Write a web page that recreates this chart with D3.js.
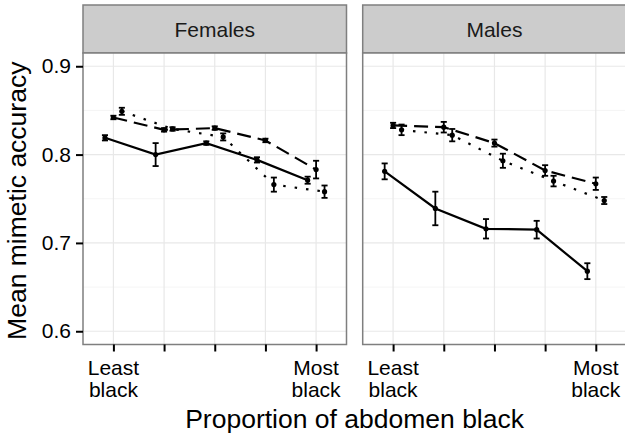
<!DOCTYPE html>
<html>
<head>
<meta charset="utf-8">
<script src="https://cdn.jsdelivr.net/npm/d3@7"></script>
<style>
  body { margin: 0; background: #fff; }
  text { font-family: "Liberation Sans", Arial, Helvetica, sans-serif; }
</style>
</head>
<body>
<div id="chart"></div>
<script>
// categories along x (proportion of abdomen black, 5 levels)
var categories = [1, 2, 3, 4, 5];
var tickLabels = [["Least", "black"], [], [], [], ["Most", "black"]];
var panels = ["Females", "Males"];
var yTicks = [0.6, 0.7, 0.8, 0.9];
var yMinor = [0.65, 0.75, 0.85];

// mean and error (half-width) per panel, one per line style
var femalesSolid  = [0.819, 0.800, 0.813, 0.794, 0.771];
var femalesSolidErr  = [0.003, 0.013, 0.002, 0.003, 0.004];
var femalesDashed = [0.842, 0.828, 0.830, 0.816, 0.783];
var femalesDashedErr = [0.002, 0.002, 0.002, 0.002, 0.010];
var femalesDotted = [0.849, 0.829, 0.820, 0.766, 0.758];
var femalesDottedErr = [0.004, 0.002, 0.004, 0.008, 0.007];

var malesSolid  = [0.781, 0.739, 0.716, 0.715, 0.668];
var malesSolidErr  = [0.009, 0.019, 0.011, 0.010, 0.009];
var malesDashed = [0.833, 0.831, 0.813, 0.782, 0.767];
var malesDashedErr = [0.003, 0.006, 0.004, 0.006, 0.007];
var malesDotted = [0.828, 0.822, 0.793, 0.770, 0.748];
var malesDottedErr = [0.006, 0.007, 0.008, 0.006, 0.004];

var lineStyles = {
  solid: null,
  dashed: "14,7",
  dotted: "2.5,9"
};
var dodge = {solid: -1/6, dashed: 0, dotted: 1/6};

var series = {
  "Females": [
    {style: "solid", vals: femalesSolid, err: femalesSolidErr},
    {style: "dashed", vals: femalesDashed, err: femalesDashedErr},
    {style: "dotted", vals: femalesDotted, err: femalesDottedErr}
  ],
  "Males": [
    {style: "solid", vals: malesSolid, err: malesSolidErr},
    {style: "dashed", vals: malesDashed, err: malesDashedErr},
    {style: "dotted", vals: malesDotted, err: malesDottedErr}
  ]
};

var W = 625, H = 434;
var panelW = 263.5, panelGap = 16.2, panelLeft = 83;
var stripTop = 5, panelTop = 53, panelBottom = 344.5;

var svg = d3.select("#chart").append("svg")
  .attr("width", W)
  .attr("height", H);

var y = d3.scaleLinear()
  .domain([0.585, 0.915])
  .range([panelBottom, panelTop]);

panels.forEach(function(name, pi) {
  var x0 = panelLeft + pi * (panelW + panelGap);
  var x = d3.scaleLinear()
    .domain([0.4, 5.6])
    .range([x0, x0 + panelW]);

  var g = svg.append("g");

  // strip
  g.append("rect")
    .attr("x", x0).attr("y", stripTop)
    .attr("width", panelW).attr("height", panelTop - stripTop)
    .attr("fill", "#cccccc")
    .attr("stroke", "#7f7f7f")
    .attr("stroke-width", 1.5);
  g.append("text")
    .attr("x", x0 + panelW / 2)
    .attr("y", (stripTop + panelTop) / 2 + 7.5)
    .attr("text-anchor", "middle")
    .attr("font-size", 21)
    .attr("fill", "#1a1a1a")
    .text(name);

  // panel bg + grid
  g.append("rect")
    .attr("x", x0).attr("y", panelTop)
    .attr("width", panelW).attr("height", panelBottom - panelTop)
    .attr("fill", "#fff");

  g.selectAll(".minor").data(yMinor).enter().append("line")
    .attr("x1", x0).attr("x2", x0 + panelW)
    .attr("y1", function(d) { return y(d); })
    .attr("y2", function(d) { return y(d); })
    .attr("stroke", "#f5f5f5").attr("stroke-width", 1);
  g.selectAll(".hmajor").data(yTicks).enter().append("line")
    .attr("x1", x0).attr("x2", x0 + panelW)
    .attr("y1", function(d) { return y(d); })
    .attr("y2", function(d) { return y(d); })
    .attr("stroke", "#e8e8e8").attr("stroke-width", 1.2);
  g.selectAll(".vmajor").data(categories).enter().append("line")
    .attr("x1", function(d) { return x(d); })
    .attr("x2", function(d) { return x(d); })
    .attr("y1", panelTop).attr("y2", panelBottom)
    .attr("stroke", "#e8e8e8").attr("stroke-width", 1.2);

  // data
  series[name].forEach(function(s) {
    var pts = categories.map(function(c, i) {
      return {x: c + dodge[s.style], v: s.vals[i], e: s.err[i]};
    });
    var line = d3.line()
      .x(function(d) { return x(d.x); })
      .y(function(d) { return y(d.v); });
    g.append("path")
      .datum(pts)
      .attr("d", line)
      .attr("fill", "none")
      .attr("stroke", "#000")
      .attr("stroke-width", 2.2)
      .attr("stroke-dasharray", lineStyles[s.style]);

    var eb = g.selectAll(null).data(pts).enter().append("g");
    eb.append("line")
      .attr("x1", function(d) { return x(d.x); })
      .attr("x2", function(d) { return x(d.x); })
      .attr("y1", function(d) { return y(d.v - d.e); })
      .attr("y2", function(d) { return y(d.v + d.e); })
      .attr("stroke", "#000").attr("stroke-width", 1.8);
    [-1, 1].forEach(function(sign) {
      eb.append("line")
        .attr("x1", function(d) { return x(d.x - 0.06); })
        .attr("x2", function(d) { return x(d.x + 0.06); })
        .attr("y1", function(d) { return y(d.v + sign * d.e); })
        .attr("y2", function(d) { return y(d.v + sign * d.e); })
        .attr("stroke", "#000").attr("stroke-width", 1.8);
    });
    eb.append("circle")
      .attr("cx", function(d) { return x(d.x); })
      .attr("cy", function(d) { return y(d.v); })
      .attr("r", 2.6)
      .attr("fill", "#000");
  });

  // panel border
  g.append("rect")
    .attr("x", x0).attr("y", panelTop)
    .attr("width", panelW).attr("height", panelBottom - panelTop)
    .attr("fill", "none")
    .attr("stroke", "#7f7f7f")
    .attr("stroke-width", 1.5);

  // x axis
  var xa = g.append("g")
    .attr("transform", "translate(0," + panelBottom + ")")
    .call(d3.axisBottom(x).tickValues(categories).tickSize(7).tickFormat(""));
  xa.select(".domain").remove();
  xa.selectAll(".tick line").attr("stroke", "#000").attr("stroke-width", 2);

  categories.forEach(function(c, i) {
    var t = g.append("text")
      .attr("x", x(c))
      .attr("y", 375)
      .attr("text-anchor", "middle")
      .attr("font-size", 21)
      .attr("fill", "#000");
    tickLabels[i].forEach(function(s, k) {
      t.append("tspan")
        .attr("x", x(c))
        .attr("dy", k === 0 ? 0 : 21.7)
        .text(s);
    });
  });

  // y axis only on first panel
  if (pi === 0) {
    var ya = g.append("g")
      .attr("transform", "translate(" + x0 + ",0)")
      .call(d3.axisLeft(y).tickValues(yTicks).tickSize(7).tickPadding(5)
        .tickFormat(d3.format(".1f")));
    ya.select(".domain").remove();
    ya.selectAll(".tick line").attr("stroke", "#000").attr("stroke-width", 2);
    ya.selectAll(".tick text")
      .attr("font-size", 21)
      .attr("fill", "#000")
      .attr("font-family", "Liberation Sans, Arial, sans-serif");
  }
});

svg.append("text")
  .attr("x", (panelLeft + panelLeft + 2 * panelW + panelGap) / 2)
  .attr("y", 428)
  .attr("text-anchor", "middle")
  .attr("font-size", 26.5)
  .attr("fill", "#000")
  .text("Proportion of abdomen black");

svg.append("text")
  .attr("transform", "translate(25.5," + ((panelTop + panelBottom) / 2 + 2) + ") rotate(-90)")
  .attr("text-anchor", "middle")
  .attr("font-size", 26.5)
  .attr("fill", "#000")
  .text("Mean mimetic accuracy");
</script>
</body>
</html>
